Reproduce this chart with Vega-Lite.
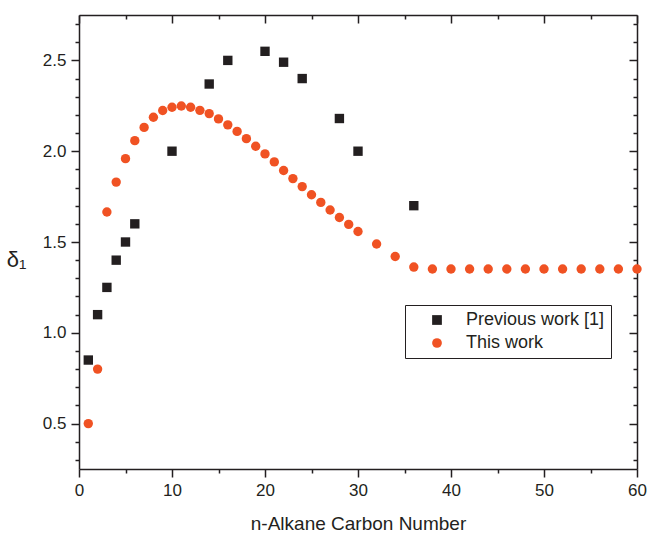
{
  "$schema": "https://vega.github.io/schema/vega-lite/v6.json",
  "width": 558,
  "height": 454,
  "autosize": {"type": "none"},
  "padding": {"left": 79, "top": 15, "right": 10, "bottom": 68},
  "background": "white",
  "config": {
    "view": {"stroke": null},
    "font": "Liberation Sans",
    "axis": {
      "domainColor": "#231f20",
      "domainWidth": 1.5,
      "tickColor": "#231f20",
      "tickWidth": 1.5,
      "labelColor": "#231f20",
      "titleColor": "#231f20",
      "labelFont": "Liberation Sans",
      "titleFont": "Liberation Sans",
      "labelFontSize": 17,
      "grid": false
    }
  },
  "data": {
    "values": [
      {"series": "Previous work [1]", "n": 1, "delta": 0.85},
      {"series": "Previous work [1]", "n": 2, "delta": 1.10},
      {"series": "Previous work [1]", "n": 3, "delta": 1.25},
      {"series": "Previous work [1]", "n": 4, "delta": 1.40},
      {"series": "Previous work [1]", "n": 5, "delta": 1.50},
      {"series": "Previous work [1]", "n": 6, "delta": 1.60},
      {"series": "Previous work [1]", "n": 10, "delta": 2.00},
      {"series": "Previous work [1]", "n": 14, "delta": 2.37},
      {"series": "Previous work [1]", "n": 16, "delta": 2.50},
      {"series": "Previous work [1]", "n": 20, "delta": 2.55},
      {"series": "Previous work [1]", "n": 22, "delta": 2.49},
      {"series": "Previous work [1]", "n": 24, "delta": 2.40},
      {"series": "Previous work [1]", "n": 28, "delta": 2.18},
      {"series": "Previous work [1]", "n": 30, "delta": 2.00},
      {"series": "Previous work [1]", "n": 36, "delta": 1.70},
      {"series": "This work", "n": 1, "delta": 0.50},
      {"series": "This work", "n": 2, "delta": 0.80},
      {"series": "This work", "n": 3, "delta": 1.665},
      {"series": "This work", "n": 4, "delta": 1.83},
      {"series": "This work", "n": 5, "delta": 1.959},
      {"series": "This work", "n": 6, "delta": 2.058},
      {"series": "This work", "n": 7, "delta": 2.131},
      {"series": "This work", "n": 8, "delta": 2.187},
      {"series": "This work", "n": 9, "delta": 2.224},
      {"series": "This work", "n": 10, "delta": 2.242},
      {"series": "This work", "n": 11, "delta": 2.249},
      {"series": "This work", "n": 12, "delta": 2.242},
      {"series": "This work", "n": 13, "delta": 2.225},
      {"series": "This work", "n": 14, "delta": 2.207},
      {"series": "This work", "n": 15, "delta": 2.178},
      {"series": "This work", "n": 16, "delta": 2.145},
      {"series": "This work", "n": 17, "delta": 2.109},
      {"series": "This work", "n": 18, "delta": 2.069},
      {"series": "This work", "n": 19, "delta": 2.027},
      {"series": "This work", "n": 20, "delta": 1.985},
      {"series": "This work", "n": 21, "delta": 1.941},
      {"series": "This work", "n": 22, "delta": 1.894},
      {"series": "This work", "n": 23, "delta": 1.849},
      {"series": "This work", "n": 24, "delta": 1.805},
      {"series": "This work", "n": 25, "delta": 1.760},
      {"series": "This work", "n": 26, "delta": 1.718},
      {"series": "This work", "n": 27, "delta": 1.676},
      {"series": "This work", "n": 28, "delta": 1.635},
      {"series": "This work", "n": 29, "delta": 1.597},
      {"series": "This work", "n": 30, "delta": 1.558},
      {"series": "This work", "n": 32, "delta": 1.489},
      {"series": "This work", "n": 34, "delta": 1.420},
      {"series": "This work", "n": 36, "delta": 1.362},
      {"series": "This work", "n": 38, "delta": 1.351},
      {"series": "This work", "n": 40, "delta": 1.351},
      {"series": "This work", "n": 42, "delta": 1.351},
      {"series": "This work", "n": 44, "delta": 1.351},
      {"series": "This work", "n": 46, "delta": 1.351},
      {"series": "This work", "n": 48, "delta": 1.351},
      {"series": "This work", "n": 50, "delta": 1.351},
      {"series": "This work", "n": 52, "delta": 1.351},
      {"series": "This work", "n": 54, "delta": 1.351},
      {"series": "This work", "n": 56, "delta": 1.351},
      {"series": "This work", "n": 58, "delta": 1.351},
      {"series": "This work", "n": 60, "delta": 1.351}
    ]
  },
  "resolve": {"axis": {"x": "independent", "y": "independent"}},
  "layer": [
    {
      "mark": {"type": "point", "filled": true, "opacity": 1, "size": 88, "strokeWidth": 0},
      "encoding": {
        "x": {
          "field": "n", "type": "quantitative",
          "scale": {"domain": [0, 60], "nice": false, "zero": false},
          "axis": {
            "orient": "bottom",
            "title": "n-Alkane Carbon Number",
            "titleFontSize": 19,
            "titleFontWeight": "normal",
            "titlePadding": 16,
            "values": [0, 5, 10, 15, 20, 25, 30, 35, 40, 45, 50, 55, 60],
            "tickSize": {"condition": {"test": "datum.value % 10 === 0", "value": 8}, "value": 4},
            "labelExpr": "datum.value % 10 === 0 ? datum.label : ''",
            "labelPadding": 5,
            "labelFlush": false
          }
        },
        "y": {
          "field": "delta", "type": "quantitative",
          "scale": {"domain": [0.25, 2.75], "nice": false, "zero": false},
          "axis": {
            "orient": "left",
            "title": "δ₁",
            "titleAngle": 0,
            "titleFontSize": 22,
            "titleFontWeight": "normal",
            "titleAlign": "center",
            "titleBaseline": "middle",
            "titleX": -63,
            "titleY": 244,
            "values": [0.3, 0.4, 0.5, 0.6, 0.7, 0.8, 0.9, 1.0, 1.1, 1.2, 1.3, 1.4, 1.5, 1.6, 1.7, 1.8, 1.9, 2.0, 2.1, 2.2, 2.3, 2.4, 2.5, 2.6, 2.7],
            "tickSize": {"condition": {"test": "round(datum.value * 10) % 5 === 0", "value": 8}, "value": 4},
            "labelExpr": "round(datum.value * 10) % 5 === 0 ? format(datum.value, '.1f') : ''",
            "labelPadding": 5,
            "labelFlush": false
          }
        },
        "color": {
          "field": "series", "type": "nominal",
          "scale": {"domain": ["Previous work [1]", "This work"], "range": ["#231f20", "#F05223"]},
          "legend": {
            "title": null,
            "orient": "none",
            "legendX": 326,
            "legendY": 290,
            "direction": "vertical",
            "strokeColor": "#231f20",
            "fillColor": "white",
            "padding": 6,
            "symbolOffset": 17,
            "labelOffset": 20,
            "labelFontSize": 18,
            "labelColor": "#231f20",
            "labelFont": "Liberation Sans",
            "rowPadding": 5,
            "symbolSize": 95,
            "symbolStrokeWidth": 0,
            "labelLimit": 300
          }
        },
        "shape": {
          "field": "series", "type": "nominal",
          "scale": {"domain": ["Previous work [1]", "This work"], "range": ["square", "circle"]},
          "legend": null
        }
      }
    },
    {
      "mark": {"type": "point", "opacity": 0},
      "encoding": {
        "x": {
          "field": "n", "type": "quantitative",
          "axis": {
            "orient": "top",
            "title": null,
            "labels": false,
            "values": [0, 5, 10, 15, 20, 25, 30, 35, 40, 45, 50, 55, 60],
            "tickSize": {"condition": {"test": "datum.value % 10 === 0", "value": -8}, "value": -4}
          }
        },
        "y": {
          "field": "delta", "type": "quantitative",
          "axis": {
            "orient": "right",
            "title": null,
            "labels": false,
            "values": [0.3, 0.4, 0.5, 0.6, 0.7, 0.8, 0.9, 1.0, 1.1, 1.2, 1.3, 1.4, 1.5, 1.6, 1.7, 1.8, 1.9, 2.0, 2.1, 2.2, 2.3, 2.4, 2.5, 2.6, 2.7],
            "tickSize": {"condition": {"test": "round(datum.value * 10) % 5 === 0", "value": -8}, "value": -4}
          }
        }
      }
    }
  ]
}
